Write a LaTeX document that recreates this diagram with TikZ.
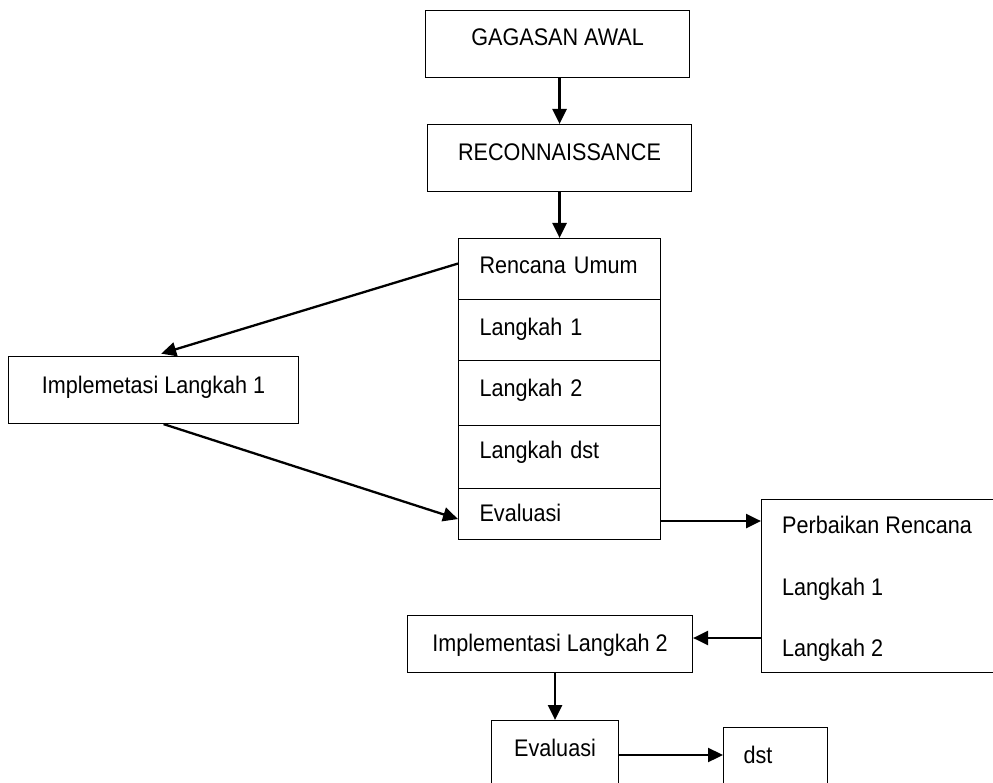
\documentclass[tikz,border=0pt]{standalone}
\usepackage{fontspec}
\setmainfont{Liberation Sans}[FakeStretch=0.9]
\usetikzlibrary{arrows.meta,calc}
\begin{document}
\begin{tikzpicture}[x=1pt,y=-1pt,
  txt/.style={font=\fontsize{24}{28}\selectfont},
  box/.style={draw,line width=1.1pt,inner sep=0pt,txt},
  cell/.style={box,anchor=north west,minimum width=202pt,inner xsep=21pt,text width=160pt,align=left},
  arr/.style={line width=2.3pt,-{Triangle[length=15pt,width=14pt]}}]
\useasboundingbox (0,0) rectangle (993,783);
% top boxes
\node[box,anchor=north west,minimum width=264pt,text height=35pt,text depth=32pt] (g) at (425,10) {GAGASAN AWAL};
\node[box,anchor=north west,minimum width=264pt,text height=36pt,text depth=31pt] (r) at (427,124) {RECONNAISSANCE};
% stacked plan
\node[cell,text height=35pt,text depth=26pt] (ru) at (458,238) {\mbox{Rencana Umum}};
\node[cell,text height=36pt,text depth=25pt] (l1) at (458,299) {\mbox{Langkah 1}};
\node[cell,text height=36pt,text depth=29pt] (l2) at (458,360) {\mbox{Langkah 2}};
\node[cell,text height=33pt,text depth=30pt] (ld) at (458,425) {\mbox{Langkah dst}};
\node[cell,text height=33pt,text depth=18pt] (ev1) at (458,488) {\mbox{Evaluasi}};
% implementation 1
\node[box,anchor=north west,minimum width=290pt,text height=37pt,text depth=30pt] (im1) at (8,356) {Implemetasi Langkah 1};
% revised plan
\node[draw,line width=1.1pt,anchor=north west,minimum width=240pt,minimum height=173pt,inner sep=0pt] (pr) at (761,499) {};
\node[txt,anchor=base west,inner sep=0pt] (pr1) at (782,533) {Perbaikan Rencana};
\node[txt,anchor=base west,inner sep=0pt] (pr2) at (782,595) {Langkah 1};
\node[txt,anchor=base west,inner sep=0pt] (pr3) at (782,656) {Langkah 2};
% implementation 2
\node[box,anchor=north west,minimum width=285pt,text height=36pt,text depth=21pt] (im2) at (407,615) {Implementasi Langkah 2};
% evaluation 2 and dst
\node[box,anchor=north west,minimum width=127pt,text height=36pt,text depth=34pt] (ev2) at (491,720) {Evaluasi};
\node[box,anchor=north west,minimum width=104pt,inner xsep=20pt,text width=64pt,align=left,text height=36pt,text depth=27pt] (dst) at (723,727) {\mbox{dst}};
% connector anchors
\coordinate (c1) at (0,638);
\coordinate (a3) at ($(ru.west)+(0,-5.5)$);
\coordinate (a4s) at ($(im1.south)+(10,0)$);
\coordinate (a4e) at ($(ev1.west)+(0,5)$);
\coordinate (a5) at ($(ev1.east)+(0,7)$);
\coordinate (a8) at ($(ev2.north east)+(0,35)$);
% connectors
\draw[arr] (g.south -| r.north) -- (r.north);
\draw[arr] (r.south) -- (ru.north);
\draw[arr,shorten >=8pt] (a3) -- (im1.north);
\draw[arr] (a4s) -- (a4e);
\draw[arr] (a5) -- (a5 -| pr.west);
\draw[arr] (pr.west |- c1) -- (im2.east |- c1);
\draw[arr] (im2.south -| ev2.north) -- (ev2.north);
\draw[arr] (a8) -- (a8 -| dst.west);
\end{tikzpicture}
\end{document}
